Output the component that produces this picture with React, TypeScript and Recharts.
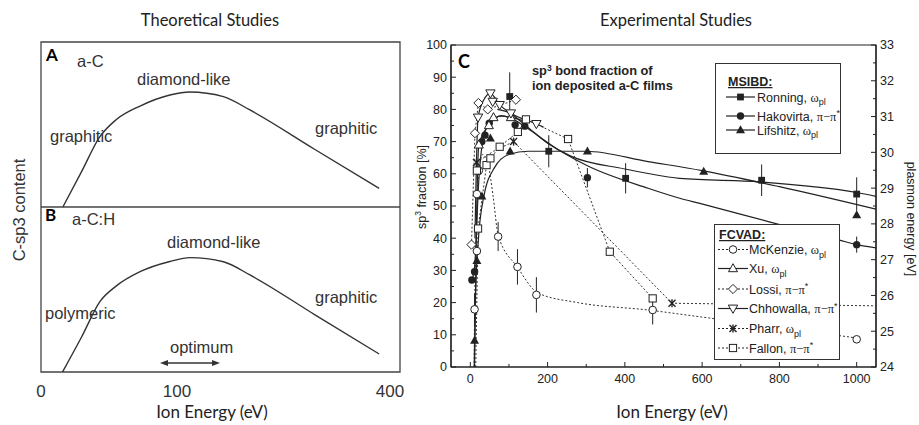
import React from 'react';
import {
  LineChart,
  ComposedChart,
  Line,
  Scatter,
  XAxis,
  YAxis,
  ReferenceArea,
  ReferenceLine,
  ErrorBar,
} from 'recharts';

const FONT = '"Liberation Sans", Arial, Helvetica, sans-serif';
const TITLE_FONT = 'Lato, "Open Sans", sans-serif';
const INK = '#222';
const SKETCH = '#333';

// ---------------- Left panel: theoretical sketch ----------------
const theoryTickPos = [0, 37.9, 97.2];
const theoryTickLabels = ['0', '100', '400'];

const curveAC = [
  { x: 6.1, y: 0 },
  { x: 11.3, y: 21.4 },
  { x: 16.4, y: 42.6 },
  { x: 21.0, y: 53.0 },
  { x: 27.6, y: 61.2 },
  { x: 35.9, y: 67.9 },
  { x: 41.5, y: 69.7 },
  { x: 50.8, y: 66.9 },
  { x: 58.2, y: 58.8 },
  { x: 76.2, y: 35.0 },
  { x: 94.2, y: 11.3 },
];

const curveACH = [
  { x: 6.0, y: 0 },
  { x: 11.3, y: 21.2 },
  { x: 16.4, y: 42.6 },
  { x: 21.0, y: 52.2 },
  { x: 27.6, y: 60.8 },
  { x: 35.9, y: 67.0 },
  { x: 41.5, y: 69.3 },
  { x: 50.8, y: 66.8 },
  { x: 58.2, y: 58.8 },
  { x: 76.2, y: 34.8 },
  { x: 94.2, y: 10.9 },
];

// ---------------- Right panel: experimental data ----------------
const energyTicks = [0, 100, 200, 300, 400, 500, 600, 700, 800, 900, 1000];
const sp3Ticks = [0, 5, 10, 15, 20, 25, 30, 35, 40, 45, 50, 55, 60, 65, 70, 75, 80, 85, 90, 95, 100];
const plasmonTicks = [24, 24.5, 25, 25.5, 26, 26.5, 27, 27.5, 28, 28.5, 29, 29.5, 30, 30.5, 31, 31.5, 32, 32.5, 33];

// measured points (x = ion energy eV, y = sp3 %, e = error half-length)
const ronningPts = [
  { x: 102, y: 84, e: 7.5 },
  { x: 203, y: 67, e: 5 },
  { x: 402, y: 58.6, e: 4.7 },
  { x: 754, y: 58, e: 4.9 },
  { x: 1000, y: 53.7, e: 5.2 },
];
const hakovirtaPts = [
  { x: 4, y: 27, e: 0 },
  { x: 11, y: 29.6, e: 0 },
  { x: 30, y: 70, e: 0 },
  { x: 38, y: 72, e: 0 },
  { x: 49, y: 75.7, e: 0 },
  { x: 116, y: 75.2, e: 0 },
  { x: 141, y: 74.8, e: 0 },
  { x: 303, y: 58.8, e: 3 },
  { x: 1000, y: 38, e: 2.5 },
];
const lifshitzPts = [
  { x: 11, y: 8.2, e: 0 },
  { x: 17, y: 33, e: 0 },
  { x: 30, y: 53, e: 0 },
  { x: 52, y: 71, e: 0 },
  { x: 103, y: 67, e: 0 },
  { x: 303, y: 67, e: 0 },
  { x: 604, y: 60.7, e: 0 },
  { x: 1000, y: 47.2, e: 0 },
];
const mckenziePts = [
  { x: 11, y: 17.9, e: 5 },
  { x: 17, y: 36, e: 0 },
  { x: 17, y: 53.7, e: 0 },
  { x: 22, y: 61, e: 0 },
  { x: 72, y: 40.5, e: 4.5 },
  { x: 122, y: 31.1, e: 5.5 },
  { x: 171, y: 22.4, e: 5.5 },
  { x: 472, y: 17.7, e: 4.5 },
  { x: 1000, y: 8.6, e: 0 },
];
const xuPts = [
  { x: 22, y: 69, e: 0 },
  { x: 48, y: 75, e: 0 },
  { x: 60, y: 77.5, e: 0 },
  { x: 105, y: 77.5, e: 0 },
];
const lossiPts = [
  { x: 3, y: 38, e: 0 },
  { x: 12, y: 72.6, e: 0 },
  { x: 21, y: 82, e: 0 },
  { x: 45, y: 80, e: 0 },
  { x: 118, y: 83, e: 0 },
];
const chhowallaPts = [
  { x: 20, y: 77.5, e: 0 },
  { x: 52, y: 85, e: 0 },
  { x: 58, y: 82.4, e: 0 },
  { x: 76, y: 81.4, e: 0 },
  { x: 105, y: 78.8, e: 0 },
  { x: 171, y: 75.5, e: 0 },
];
const pharrPts = [
  { x: 16, y: 63.5, e: 0 },
  { x: 112, y: 70, e: 0 },
  { x: 522, y: 19.8, e: 0 },
];
const fallonPts = [
  { x: 20, y: 43, e: 0 },
  { x: 17, y: 61, e: 0 },
  { x: 42, y: 62.7, e: 0 },
  { x: 52, y: 64.8, e: 0 },
  { x: 76, y: 68.4, e: 0 },
  { x: 123, y: 73, e: 0 },
  { x: 144, y: 76.9, e: 0 },
  { x: 253, y: 70.8, e: 0 },
  { x: 361, y: 35.8, e: 0 },
  { x: 472, y: 21.3, e: 0 },
];

// fitted / guide curves
const ronningFit = [
  { x: 70, y: 80 },
  { x: 100, y: 79 },
  { x: 143, y: 75 },
  { x: 200, y: 69.5 },
  { x: 260, y: 65.5 },
  { x: 400, y: 61.5 },
  { x: 460, y: 60.1 },
  { x: 542, y: 58.6 },
  { x: 750, y: 57.5 },
  { x: 1000, y: 54.2 },
  { x: 1050, y: 53 },
];
const hakovirtaFit = [
  { x: 4, y: 27 },
  { x: 11, y: 31 },
  { x: 22, y: 58 },
  { x: 32, y: 70 },
  { x: 50, y: 76 },
  { x: 80, y: 78 },
  { x: 110, y: 77 },
  { x: 143, y: 74.5 },
  { x: 234, y: 67 },
  { x: 303, y: 62.5 },
  { x: 460, y: 55.5 },
  { x: 542, y: 52.4 },
  { x: 594, y: 50.8 },
  { x: 776, y: 45 },
  { x: 956, y: 39.4 },
  { x: 1000, y: 38 },
  { x: 1050, y: 37 },
];
const lifshitzFit = [
  { x: 10, y: 0 },
  { x: 13, y: 20 },
  { x: 20, y: 38 },
  { x: 35, y: 53 },
  { x: 63, y: 62 },
  { x: 100, y: 66 },
  { x: 150, y: 67 },
  { x: 300, y: 67 },
  { x: 460, y: 63.8 },
  { x: 600, y: 61 },
  { x: 800, y: 56 },
  { x: 1050, y: 49 },
];
const mckenzieFit = [
  { x: 10, y: 0 },
  { x: 11, y: 18 },
  { x: 17, y: 45 },
  { x: 22, y: 61 },
  { x: 32, y: 66 },
  { x: 46, y: 63 },
  { x: 59, y: 53 },
  { x: 72, y: 41 },
  { x: 122, y: 31 },
  { x: 175, y: 23 },
  { x: 278, y: 20 },
  { x: 460, y: 17.7 },
  { x: 594, y: 15.6 },
  { x: 800, y: 12.3 },
  { x: 1000, y: 9 },
];
const xuFit = [
  { x: 11, y: 0 },
  { x: 16, y: 45 },
  { x: 22, y: 69 },
  { x: 48, y: 75 },
  { x: 80, y: 78 },
  { x: 105, y: 77.5 },
  { x: 150, y: 76 },
];
const lossiFit = [
  { x: 3, y: 38 },
  { x: 12, y: 72.6 },
  { x: 21, y: 82 },
  { x: 45, y: 80 },
  { x: 118, y: 83 },
];
const chhowallaFit = [
  { x: 12, y: 40 },
  { x: 20, y: 77.5 },
  { x: 35, y: 83 },
  { x: 52, y: 85 },
  { x: 76, y: 81.4 },
  { x: 105, y: 78.8 },
  { x: 171, y: 75.5 },
  { x: 190, y: 74.5 },
];
const pharrFit = [
  { x: 16, y: 63.5 },
  { x: 60, y: 67 },
  { x: 112, y: 70 },
  { x: 522, y: 19.8 },
  { x: 1050, y: 19 },
];
const fallonFit = [
  { x: 14, y: 0 },
  { x: 20, y: 43 },
  { x: 42, y: 62.7 },
  { x: 52, y: 64.8 },
  { x: 76, y: 68.4 },
  { x: 123, y: 73 },
  { x: 144, y: 76.9 },
  { x: 253, y: 70.8 },
  { x: 361, y: 35.8 },
  { x: 472, y: 21.3 },
];

const seriesDefs = [
  { name: 'Ronning', method: 'pl', marker: 'square', dashed: false, curve: 'monotone', pts: ronningPts, fit: ronningFit },
  { name: 'Hakovirta', method: 'pi', marker: 'circle', dashed: false, curve: 'monotone', pts: hakovirtaPts, fit: hakovirtaFit },
  { name: 'Lifshitz', method: 'pl', marker: 'triangle', dashed: false, curve: 'monotone', pts: lifshitzPts, fit: lifshitzFit },
  { name: 'McKenzie', method: 'pl', marker: 'ocircle', dashed: true, curve: 'monotone', pts: mckenziePts, fit: mckenzieFit },
  { name: 'Xu', method: 'pl', marker: 'otriangle', dashed: false, curve: 'monotone', pts: xuPts, fit: xuFit },
  { name: 'Lossi', method: 'pi', marker: 'odiamond', dashed: true, curve: 'linear', pts: lossiPts, fit: lossiFit },
  { name: 'Chhowalla', method: 'pi', marker: 'otriangleDown', dashed: false, curve: 'monotone', pts: chhowallaPts, fit: chhowallaFit },
  { name: 'Pharr', method: 'pl', marker: 'star', dashed: true, curve: 'linear', pts: pharrPts, fit: pharrFit },
  { name: 'Fallon', method: 'pi', marker: 'osquare', dashed: true, curve: 'linear', pts: fallonPts, fit: fallonFit },
];

function drawMarker(kind: string, cx: number, cy: number) {
  if (cx == null || cy == null || isNaN(cx) || isNaN(cy)) return <g />;
  switch (kind) {
    case 'square':
      return <rect x={cx - 3.4} y={cy - 3.4} width={6.8} height={6.8} fill={INK} />;
    case 'circle':
      return <circle cx={cx} cy={cy} r={3.7} fill={INK} />;
    case 'triangle':
      return <polygon points={`${cx},${cy - 4.8} ${cx - 4.5},${cy + 3.2} ${cx + 4.5},${cy + 3.2}`} fill={INK} />;
    case 'ocircle':
      return <circle cx={cx} cy={cy} r={3.8} fill="#fff" stroke={INK} strokeWidth={1} />;
    case 'otriangle':
      return <polygon points={`${cx},${cy - 4.8} ${cx - 4.5},${cy + 3.2} ${cx + 4.5},${cy + 3.2}`} fill="#fff" stroke={INK} strokeWidth={1} />;
    case 'odiamond':
      return <polygon points={`${cx},${cy - 4.6} ${cx + 4.6},${cy} ${cx},${cy + 4.6} ${cx - 4.6},${cy}`} fill="#fff" stroke={INK} strokeWidth={1} />;
    case 'otriangleDown':
      return <polygon points={`${cx - 4.7},${cy - 3.4} ${cx + 4.7},${cy - 3.4} ${cx},${cy + 4.8}`} fill="#fff" stroke={INK} strokeWidth={1} />;
    case 'star':
      return (
        <g stroke={INK} strokeWidth={1.4}>
          <line x1={cx - 3.5} y1={cy - 3.5} x2={cx + 3.5} y2={cy + 3.5} />
          <line x1={cx - 3.5} y1={cy + 3.5} x2={cx + 3.5} y2={cy - 3.5} />
          <line x1={cx} y1={cy - 4} x2={cx} y2={cy + 4} />
        </g>
      );
    case 'osquare':
    default:
      return <rect x={cx - 3.6} y={cy - 3.6} width={7.2} height={7.2} fill="#fff" stroke={INK} strokeWidth={1} />;
  }
}

const BottomTick = (p: any) => {
  const v = p.payload.value;
  const major = v % 200 === 0;
  return (
    <g>
      <line x1={p.x} y1={p.y} x2={p.x} y2={p.y - (major ? 5 : 3)} stroke={INK} strokeWidth={1} />
      {major && (
        <text x={p.x} y={p.y + 15.5} textAnchor="middle" fontSize={12.5} fontFamily={FONT} fill={INK}>
          {v}
        </text>
      )}
    </g>
  );
};
const TopTick = (p: any) => {
  const v = p.payload.value;
  const major = v % 200 === 0;
  return <line x1={p.x} y1={p.y} x2={p.x} y2={p.y + (major ? 5 : 3)} stroke={INK} strokeWidth={1} />;
};
const LeftTick = (p: any) => {
  const v = p.payload.value;
  const major = v % 10 === 0;
  return (
    <g>
      <line x1={p.x} y1={p.y} x2={p.x + (major ? 5 : 3)} y2={p.y} stroke={INK} strokeWidth={1} />
      {major && (
        <text x={p.x - 4} y={p.y + 4.4} textAnchor="end" fontSize={12.5} fontFamily={FONT} fill={INK}>
          {v}
        </text>
      )}
    </g>
  );
};
const RightTick = (p: any) => {
  const v = p.payload.value;
  const major = v % 1 === 0;
  return (
    <g>
      <line x1={p.x} y1={p.y} x2={p.x - (major ? 5 : 3)} y2={p.y} stroke={INK} strokeWidth={1} />
      {major && (
        <text x={p.x + 4} y={p.y + 4.4} textAnchor="start" fontSize={12.5} fontFamily={FONT} fill={INK}>
          {v}
        </text>
      )}
    </g>
  );
};

function TheoryChart() {
  return (
    <div style={{ position: 'absolute', left: 0, top: 0 }}>
      <LineChart width={420} height={425} margin={{ top: 42, right: 20, bottom: 0, left: 41 }}>
        <XAxis
          type="number"
          dataKey="x"
          domain={[0, 100]}
          ticks={theoryTickPos}
          interval={0}
          tickFormatter={(v: number) => theoryTickLabels[theoryTickPos.indexOf(v)]}
          axisLine={false}
          tickLine={false}
          tickSize={0}
          tickMargin={13}
          height={53}
          tick={{ fontSize: 17, fill: SKETCH, fontFamily: FONT }}
        />
        <YAxis yAxisId="A" hide type="number" domain={[-100, 100]} />
        <YAxis yAxisId="B" hide type="number" domain={[0, 200]} />
        <ReferenceArea yAxisId="A" x1={0} x2={100} y1={-100} y2={100} fill="none" stroke="#444" strokeWidth={1.3} fillOpacity={0} />
        <ReferenceLine yAxisId="A" y={0} stroke="#444" strokeWidth={1.3} />
        <Line yAxisId="A" data={curveAC} dataKey="y" type="monotone" dot={false} stroke={SKETCH} strokeWidth={1.4} isAnimationActive={false} />
        <Line yAxisId="B" data={curveACH} dataKey="y" type="monotone" dot={false} stroke={SKETCH} strokeWidth={1.4} isAnimationActive={false} />
      </LineChart>
    </div>
  );
}

function ExperimentChart() {
  return (
    <div style={{ position: 'absolute', left: 400, top: 0 }}>
      <ComposedChart width={519} height={425} margin={{ top: 45, right: 0, bottom: 28, left: 0 }}>
        <XAxis
          type="number"
          dataKey="x"
          domain={[-50, 1050]}
          ticks={energyTicks}
          interval={0}
          allowDataOverflow
          tickSize={0}
          tickMargin={0}
          tickLine={false}
          axisLine={{ stroke: INK, strokeWidth: 1.2 }}
          tick={BottomTick}
          height={30}
        />
        <XAxis
          xAxisId="top"
          orientation="top"
          type="number"
          dataKey="x"
          domain={[-50, 1050]}
          ticks={energyTicks}
          interval={0}
          allowDataOverflow
          tickSize={0}
          tickMargin={0}
          tickLine={false}
          axisLine={{ stroke: INK, strokeWidth: 1.2 }}
          tick={TopTick}
          height={0}
        />
        <YAxis
          type="number"
          dataKey="y"
          domain={[0, 100]}
          ticks={sp3Ticks}
          interval={0}
          allowDataOverflow
          tickSize={0}
          tickMargin={0}
          tickLine={false}
          axisLine={{ stroke: INK, strokeWidth: 1.2 }}
          tick={LeftTick}
          width={51}
        />
        <YAxis
          yAxisId="plasmon"
          orientation="right"
          type="number"
          domain={[24, 33]}
          ticks={plasmonTicks}
          interval={0}
          allowDataOverflow
          tickSize={0}
          tickMargin={0}
          tickLine={false}
          axisLine={{ stroke: INK, strokeWidth: 1.2 }}
          tick={RightTick}
          width={43}
        />
        <ReferenceArea x1={-50} x2={1050} y1={0} y2={100} fill="none" fillOpacity={0} stroke={INK} strokeWidth={1.2} />
        {seriesDefs.map((d) => (
          <Line
            key={'fit-' + d.name}
            data={d.fit}
            dataKey="y"
            type={d.curve as any}
            dot={false}
            stroke={d.dashed ? '#333' : INK}
            strokeWidth={d.dashed ? 1 : 1.2}
            strokeDasharray={d.dashed ? '2 2' : undefined}
            isAnimationActive={false}
          />
        ))}
        {seriesDefs.map((d) => (
          <Scatter
            key={'pts-' + d.name}
            data={d.pts}
            dataKey="y"
            isAnimationActive={false}
            shape={(p: any) => drawMarker(d.marker, p.cx, p.cy)}
          >
            <ErrorBar dataKey="e" direction="y" width={0} stroke={INK} strokeWidth={1} />
          </Scatter>
        ))}
      </ComposedChart>
    </div>
  );
}

function Method({ m }: { m: string }) {
  if (m === 'pl') {
    return (
      <>
        <tspan fontFamily="'Liberation Serif', serif">ω</tspan>
        <tspan dy={3.5} fontSize={9}>pl</tspan>
      </>
    );
  }
  return (
    <>
      <tspan fontFamily="'Liberation Serif', serif">π−π</tspan>
      <tspan dy={-4.5} fontSize={9}>*</tspan>
    </>
  );
}

function LegendRow({ d, y, x1, x2, tx }: { d: any; y: number; x1: number; x2: number; tx: number }) {
  return (
    <g>
      <line x1={x1} y1={y} x2={x2} y2={y} stroke={INK} strokeWidth={d.dashed ? 1 : 1.2} strokeDasharray={d.dashed ? '2 2' : undefined} />
      {drawMarker(d.marker, (x1 + x2) / 2, y)}
      <text x={tx} y={y + 4.5} fontSize={12.5} fontFamily={FONT} fill={INK}>
        {d.name + ', '}
        <Method m={d.method} />
      </text>
    </g>
  );
}

function Overlay() {
  const msibd = seriesDefs.slice(0, 3);
  const fcvad = seriesDefs.slice(3);
  const msibdRows = [97, 116, 130];
  const fcvadRows = [249.5, 268.5, 289, 308.5, 328.5, 348];
  const textStyle = { fontFamily: FONT, fill: SKETCH };
  return (
    <svg width={919} height={425} style={{ position: 'absolute', left: 0, top: 0, pointerEvents: 'none' }}>
      {/* titles */}
      <text x={210} y={26} textAnchor="middle" fontSize={16.5} fontFamily={TITLE_FONT} fill="#222">Theoretical Studies</text>
      <text x={676} y={26} textAnchor="middle" fontSize={16.5} fontFamily={TITLE_FONT} fill="#222">Experimental Studies</text>
      <text x={212} y={418} textAnchor="middle" fontSize={17} fontFamily={TITLE_FONT} fill="#222">Ion Energy (eV)</text>
      <text x={672} y={418} textAnchor="middle" fontSize={17} fontFamily={TITLE_FONT} fill="#222">Ion Energy (eV)</text>

      {/* left panel annotations */}
      <text x={19} y={210} transform="rotate(-90 19 210)" textAnchor="middle" dominantBaseline="central" fontSize={16.5} {...textStyle}>C-sp3 content</text>
      <text x={46} y={61} fontSize={17} fontWeight="bold" fontFamily={TITLE_FONT} fill="#000">A</text>
      <text x={77} y={67} fontSize={16.5} {...textStyle}>a-C</text>
      <text x={137} y={85} fontSize={16.5} {...textStyle}>diamond-like</text>
      <text x={50} y={142} fontSize={16.5} {...textStyle}>graphitic</text>
      <text x={315} y={134} fontSize={16.5} {...textStyle}>graphitic</text>
      <text x={45} y={221} fontSize={17} fontWeight="bold" fontFamily={TITLE_FONT} fill="#000">B</text>
      <text x={72} y={225} fontSize={16.5} {...textStyle}>a-C:H</text>
      <text x={167} y={248} fontSize={16.5} {...textStyle}>diamond-like</text>
      <text x={45} y={319} fontSize={16.5} {...textStyle}>polymeric</text>
      <text x={315} y={303} fontSize={16.5} {...textStyle}>graphitic</text>
      <text x={170} y={353} fontSize={16.5} {...textStyle}>optimum</text>
      <g stroke={SKETCH} fill={SKETCH}>
        <line x1={165} y1={363} x2={215} y2={363} strokeWidth={1.3} />
        <polygon points="160,363 168,360 168,366" stroke="none" />
        <polygon points="220,363 212,360 212,366" stroke="none" />
      </g>

      {/* right panel annotations */}
      <text x={458} y={68} fontSize={18} fontWeight="bold" fontFamily={TITLE_FONT} fill="#000">C</text>
      <text x={532} y={75} fontSize={12.8} fontWeight="bold" fontFamily={FONT} fill={INK}>
        sp<tspan dy={-4.5} fontSize={8.5}>3</tspan><tspan dy={4.5}> bond fraction of</tspan>
      </text>
      <text x={532} y={90} fontSize={12.8} fontWeight="bold" fontFamily={FONT} fill={INK}>ion deposited a-C films</text>
      <text x={422} y={187} transform="rotate(-90 422 187)" textAnchor="middle" dominantBaseline="central" fontSize={12.5} fontFamily={FONT} fill={INK}>
        sp<tspan dy={-4} fontSize={8.5}>3</tspan><tspan dy={4}> fraction [%]</tspan>
      </text>
      <text x={911} y={219} transform="rotate(90 911 219)" textAnchor="middle" dominantBaseline="central" fontSize={12.5} fontFamily={FONT} fill={INK}>
        plasmon energy [eV]
      </text>

      {/* MSIBD legend */}
      <rect x={715.5} y={63.5} width={125} height={90} fill="#fff" stroke="#333" strokeWidth={1} />
      <text x={728} y={86} fontSize={12.5} fontWeight="bold" fontFamily={FONT} fill={INK} textDecoration="underline">MSIBD:</text>
      {msibd.map((d, i) => (
        <LegendRow key={d.name} d={d} y={msibdRows[i]} x1={726} x2={755} tx={757} />
      ))}

      {/* FCVAD legend */}
      <rect x={714.5} y={224.5} width={125} height={135} fill="#fff" stroke="#333" strokeWidth={1} />
      <text x={719} y={239} fontSize={12.5} fontWeight="bold" fontFamily={FONT} fill={INK} textDecoration="underline">FCVAD:</text>
      {fcvad.map((d, i) => (
        <LegendRow key={d.name} d={d} y={fcvadRows[i]} x1={718} x2={748} tx={749} />
      ))}
    </svg>
  );
}

export default function App() {
  return (
    <div style={{ position: 'absolute', left: 0, top: 0, width: 919, height: 425, background: '#fff', overflow: 'hidden' }}>
      <TheoryChart />
      <ExperimentChart />
      <Overlay />
    </div>
  );
}
